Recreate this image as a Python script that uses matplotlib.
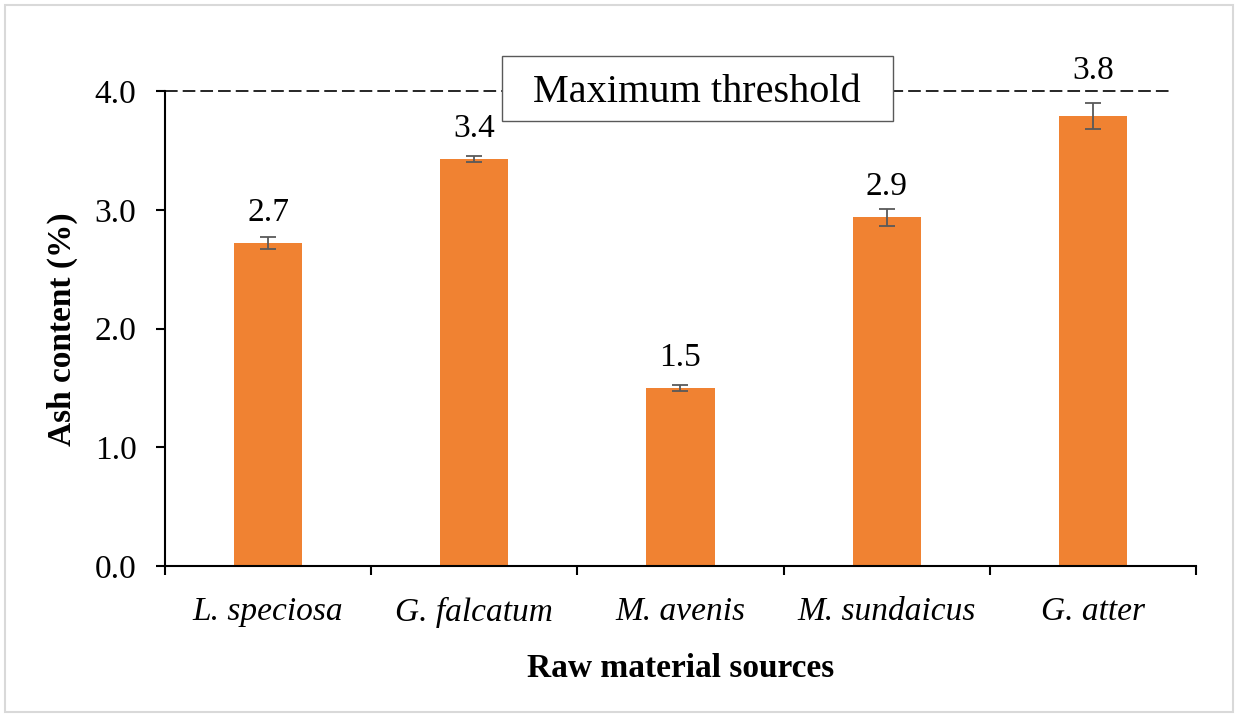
import matplotlib.pyplot as plt
from matplotlib.patches import Rectangle

# data
sources = ['L. speciosa', 'G. falcatum', 'M. avenis', 'M. sundaicus', 'G. atter']
ash = [2.72, 3.43, 1.50, 2.94, 3.79]
ash_err = [0.05, 0.025, 0.025, 0.07, 0.11]
labels = ['2.7', '3.4', '1.5', '2.9', '3.8']
threshold = 4.0
yticks = [0.0, 1.0, 2.0, 3.0, 4.0]

plt.rcParams['font.family'] = ['Liberation Serif', 'DejaVu Serif']

fig = plt.figure(figsize=(12.35, 7.17), dpi=100)
ax = fig.add_axes([0.1336, 0.2106, 0.8348, 0.6618])

x = list(range(len(sources)))
ax.bar(x, ash, width=0.33, color='#F08232', zorder=2)
ax.errorbar(x, ash, yerr=ash_err, fmt='none', ecolor='#595959',
            elinewidth=1.3, capsize=5.8, capthick=1.3, zorder=3)

# value labels (last one sits higher, above its longer error bar)
pads = [11, 11, 11, 11, 22]
for xi, v, lab, p in zip(x, ash, labels, pads):
    ax.annotate(lab, (xi, v), xytext=(0, p), textcoords='offset points',
                ha='center', va='bottom', fontsize=24, annotation_clip=False)

# threshold line
ax.plot([-0.5, 4.37], [threshold, threshold], color='#262626', lw=1.4,
        linestyle=(0, (6.5, 2.6)), clip_on=False, zorder=1)
ax.add_patch(Rectangle((1.134, 3.752), 1.896, 0.548, facecolor='white',
                       edgecolor='#595959', lw=1.0, clip_on=False, zorder=4))
ax.text(2.08, 3.99, 'Maximum threshold', ha='center', va='center',
        fontsize=29, zorder=5, clip_on=False)

ax.set_xlim(-0.5, 4.5)
ax.set_ylim(0, 4.0)
ax.set_yticks(yticks)
ax.set_yticklabels(['%.1f' % t for t in yticks], fontsize=24)
ax.set_xticks(x)
ax.set_xticklabels(sources, fontsize=24, style='italic')
ax.set_xticks([i - 0.5 for i in range(len(sources) + 1)], minor=True)
ax.tick_params(axis='x', which='major', length=0, pad=22)
ax.tick_params(axis='x', which='minor', length=6.5, width=1.5, direction='out')
ax.tick_params(axis='y', length=6.5, width=1.5, pad=14)

for s in ['top', 'right']:
    ax.spines[s].set_visible(False)
for s in ['left', 'bottom']:
    ax.spines[s].set_linewidth(1.5)

ax.set_xlabel('Raw material sources', fontsize=24, fontweight='bold', labelpad=18)
ax.set_ylabel('Ash content (%)', fontsize=24, fontweight='bold', labelpad=12)

fig.patches.append(Rectangle((5 / 1235, 5 / 717), 1228 / 1235, 707 / 717,
                             transform=fig.transFigure, fill=False,
                             edgecolor='#D9D9D9', lw=1.5))

fig.savefig('out.png', dpi=100)
